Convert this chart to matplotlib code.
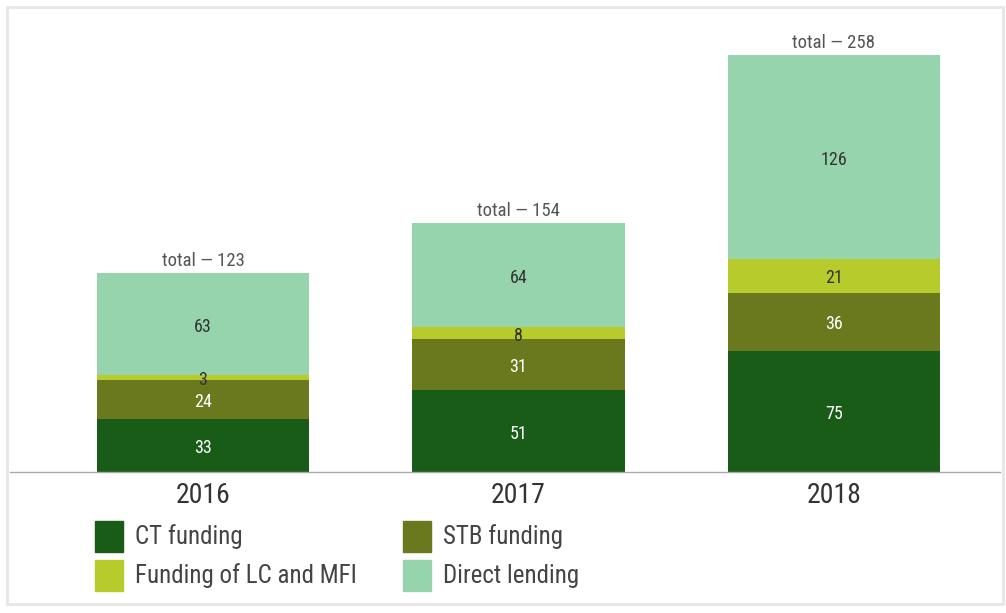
import matplotlib
matplotlib.use('Agg')
import matplotlib.pyplot as plt
from matplotlib import font_manager
from matplotlib.patches import Rectangle

years = ['2016', '2017', '2018']
series = ['CT funding', 'STB funding', 'Funding of LC and MFI', 'Direct lending']
ct_funding = [33, 51, 75]
stb_funding = [24, 31, 36]
lc_mfi_funding = [3, 8, 21]
direct_lending = [63, 64, 126]
totals = [123, 154, 258]

colors = ['#185c18', '#6a781e', '#b7cc2c', '#96d4ae']
label_colors = ['white', 'white', '#333333', '#333333']

# pick a narrow font if one is installed
names = {f.name for f in font_manager.fontManager.ttflist}
font = 'DejaVu Sans'
for cand in ['Roboto Condensed', 'Liberation Sans Narrow', 'DejaVu Sans Condensed']:
    if cand in names:
        font = cand
        break
plt.rcParams['font.family'] = font
plt.rcParams['font.stretch'] = 'condensed'

W, H = 1006, 613
fig = plt.figure(figsize=(W / 100, H / 100), dpi=100)
fig.patch.set_facecolor('white')

# panel border
fig.add_artist(Rectangle((7 / W, 9 / H), (W - 10) / W, (H - 16) / H,
                         transform=fig.transFigure, fill=False,
                         edgecolor='#e6e6e6', linewidth=2))

ax_left, ax_right = 10, 1000
base_y, top_y = 472, 10
ax = fig.add_axes([ax_left / W, (H - base_y) / H, (ax_right - ax_left) / W, (base_y - top_y) / H])
step = 315.5
ax.set_xlim((ax_left - 203) / step, (ax_right - 203) / step)
ax.set_ylim(0, (base_y - top_y) / 1.616)
ax.set_facecolor('none')

x = range(len(years))
bottom = [0, 0, 0]
for vals, col, lc, name in zip([ct_funding, stb_funding, lc_mfi_funding, direct_lending],
                               colors, label_colors, series):
    ax.bar(x, vals, width=0.672, bottom=bottom, color=col, label=name)
    for i, v in enumerate(vals):
        ax.annotate(str(v), (i, bottom[i] + v / 2), xytext=(0, -2), textcoords='offset points',
                    ha='center', va='center', fontsize=13, color=lc)
    bottom = [b + v for b, v in zip(bottom, vals)]

for i, t in enumerate(totals):
    ax.annotate('total \u2014 %d' % t, (i, t), xytext=(0, 2), textcoords='offset points',
                ha='center', va='bottom', fontsize=13.5, color='#555555')

for s in ['top', 'left', 'right']:
    ax.spines[s].set_visible(False)
ax.spines['bottom'].set_color('#aaaaaa')
ax.spines['bottom'].set_linewidth(1)
ax.set_yticks([])
ax.set_xticks(list(x))
ax.set_xticklabels(years, fontsize=20, color='#333333')
ax.tick_params(axis='x', length=0, pad=7)

# legend drawn by hand in two columns
leg_pos = [(95, 521), (403, 521), (95, 560), (403, 560)]
for (px, py), col, name in zip(leg_pos, colors, series):
    fig.add_artist(Rectangle((px / W, (H - py - 31) / H), 28 / W, 31 / H,
                             transform=fig.transFigure, color=col))
    fig.text((px + 40) / W, (H - py - 16) / H, name, fontsize=18,
             color='#444444', va='center', ha='left')

fig.savefig('out.png', dpi=100)
